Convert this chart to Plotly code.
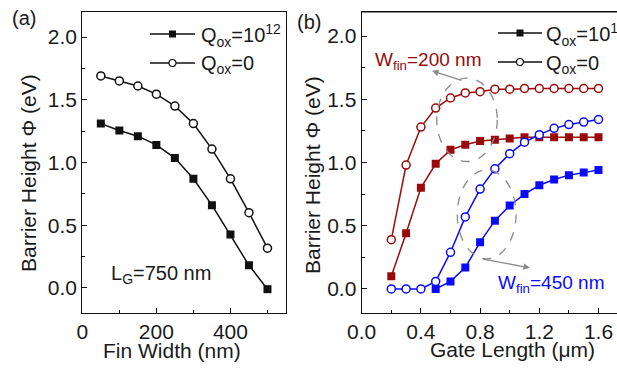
import plotly.graph_objects as go

# ---------------- data ----------------
fin_width = [50, 100, 150, 200, 250, 300, 350, 400, 450, 500]
a_q12 = [1.31, 1.255, 1.21, 1.14, 1.035, 0.87, 0.66, 0.425, 0.18, -0.01]
a_q0 = [1.69, 1.65, 1.61, 1.545, 1.45, 1.31, 1.107, 0.87, 0.60, 0.317]

gate_len = [0.2, 0.3, 0.4, 0.5, 0.6, 0.7, 0.8, 0.9, 1.0, 1.1, 1.2, 1.3, 1.4, 1.5, 1.6]
w200_q0 = [0.39, 0.98, 1.28, 1.43, 1.51, 1.55, 1.56, 1.58, 1.58, 1.585, 1.585, 1.585, 1.585, 1.585, 1.585]
w200_q12 = [0.10, 0.44, 0.80, 0.99, 1.10, 1.14, 1.17, 1.18, 1.19, 1.20, 1.20, 1.20, 1.20, 1.20, 1.20]
w450_q0 = [0.0, 0.0, 0.0, 0.06, 0.29, 0.57, 0.79, 0.95, 1.07, 1.16, 1.22, 1.27, 1.30, 1.32, 1.34]
gate_len_450_q12 = [0.5, 0.6, 0.7, 0.8, 0.9, 1.0, 1.1, 1.2, 1.3, 1.4, 1.5, 1.6]
w450_q12 = [0.0, 0.06, 0.17, 0.37, 0.54, 0.66, 0.75, 0.82, 0.865, 0.90, 0.92, 0.94]

legend_labels = ["Q<sub>ox</sub>=10<sup>12</sup>", "Q<sub>ox</sub>=0"]

# ---------------- style ----------------
W, H = 617, 369
FONT = "Liberation Sans, Arial, sans-serif"
RED = "#9a0a0a"
BLUE = "#0a0aff"
BLACK = "#111111"
GRAY = "#8a8a8a"

def px(x):
    return x / W

def py(y):
    return 1 - y / H

fig = go.Figure()

def sq(x, y, color, xa, ya):
    fig.add_trace(go.Scatter(x=x, y=y, mode="lines+markers", xaxis=xa, yaxis=ya,
                             line=dict(color=color, width=1.5),
                             marker=dict(symbol="square", size=8, color=color,
                                         line=dict(width=0)),
                             showlegend=False))

def ci(x, y, color, xa, ya):
    fig.add_trace(go.Scatter(x=x, y=y, mode="lines+markers", xaxis=xa, yaxis=ya,
                             line=dict(color=color, width=1.5),
                             marker=dict(symbol="circle", size=8, color="white",
                                         line=dict(width=1.5, color=color)),
                             showlegend=False))

# panel (a)
sq(fin_width, a_q12, BLACK, "x", "y")
ci(fin_width, a_q0, BLACK, "x", "y")
# panel (b)
sq(gate_len, w200_q12, RED, "x2", "y2")
ci(gate_len, w200_q0, RED, "x2", "y2")
sq(gate_len_450_q12, w450_q12, BLUE, "x2", "y2")
ci(gate_len, w450_q0, BLUE, "x2", "y2")

axis_common = dict(showline=True, linecolor=BLACK, linewidth=1.2, ticks="inside",
                   ticklen=5, tickwidth=1.2, tickcolor=BLACK, showgrid=False,
                   zeroline=False, tickfont=dict(family=FONT, size=21, color="#1a1a1a"))

dom_y = [py(313), py(12)]
fig.update_layout(
    width=W, height=H, margin=dict(l=0, r=0, t=0, b=0, autoexpand=False),
    paper_bgcolor="white", plot_bgcolor="white", showlegend=False,
    font=dict(family=FONT, size=20, color="#1a1a1a"),
    xaxis=dict(domain=[px(82.3), px(286)], range=[0, 550], dtick=200, tick0=0,
               mirror=True, anchor="y",
               minor=dict(dtick=100, ticks="inside", ticklen=3, tickcolor=BLACK, tickwidth=1.2),
               **axis_common),
    yaxis=dict(domain=dom_y, range=[-0.2, 2.2], dtick=0.5, tick0=0, tickformat=".1f",
               mirror=True, anchor="x",
               minor=dict(dtick=0.25, ticks="inside", ticklen=3, tickcolor=BLACK, tickwidth=1.2),
               **axis_common),
    xaxis2=dict(domain=[px(361.7), 1.0], range=[0, 1.725], dtick=0.4, tick0=0, tickformat=".1f",
                mirror=True, anchor="y2",
                minor=dict(dtick=0.2, ticks="inside", ticklen=3, tickcolor=BLACK, tickwidth=1.2),
                **axis_common),
    yaxis2=dict(domain=dom_y, range=[-0.19, 2.19], dtick=0.5, tick0=0, tickformat=".1f",
                mirror=False, anchor="x2",
                minor=dict(dtick=0.25, ticks="inside", ticklen=3, tickcolor=BLACK, tickwidth=1.2),
                **axis_common),
)

# top border of panel (b)
fig.add_shape(type="line", xref="paper", yref="paper", x0=px(361.7), x1=1.0,
              y0=py(12), y1=py(12), line=dict(color=BLACK, width=1.2))

# dashed ellipses
fig.add_shape(type="circle", xref="x2", yref="y2", x0=0.507, x1=0.916, y0=1.008, y1=1.667,
              line=dict(color=GRAY, width=1.3, dash="dash"))
fig.add_shape(type="circle", xref="x2", yref="y2", x0=0.646, x1=1.043, y0=0.238, y1=0.941,
              line=dict(color=GRAY, width=1.3, dash="dash"))

ann = []
def text(x, y, s, size=20, color="#1a1a1a", angle=0, xanchor="center"):
    ann.append(dict(x=px(x), y=py(y), xref="paper", yref="paper", text=s, showarrow=False,
                    font=dict(family=FONT, size=size, color=color), textangle=angle,
                    xanchor=xanchor, yanchor="middle"))

# hand-drawn legends (line segment + small marker + label)
def legend_block(x0, x1, y_rows, tx):
    xm = (x0 + x1) / 2
    for i, yr in enumerate(y_rows):
        fig.add_shape(type="line", xref="paper", yref="paper", x0=px(x0), x1=px(x1),
                      y0=py(yr), y1=py(yr), line=dict(color=BLACK, width=1.5))
        if i == 0:
            fig.add_shape(type="rect", xref="paper", yref="paper",
                          x0=px(xm - 3.5), x1=px(xm + 3.5), y0=py(yr + 3.5), y1=py(yr - 3.5),
                          fillcolor=BLACK, line=dict(width=0))
        else:
            fig.add_shape(type="circle", xref="paper", yref="paper",
                          x0=px(xm - 3.5), x1=px(xm + 3.5), y0=py(yr + 3.5), y1=py(yr - 3.5),
                          fillcolor="white", line=dict(color=BLACK, width=1.2))
        text(tx, yr + 2, legend_labels[i], 20, xanchor="left")

legend_block(150, 195, [34, 63], 199)
legend_block(498, 542, [33, 62], 544)

text(24, 18, "(a)", 20)
text(309, 22, "(b)", 20)
text(28, 173, "Barrier Height Φ (eV)", 21, angle=-90)
text(312, 175, "Barrier Height Φ (eV)", 21, angle=-90)
text(172, 350, "Fin Width (nm)", 21)
text(512, 349, "Gate Length (μm)", 21)
text(161, 274, "L<sub>G</sub>=750 nm", 20)
text(428, 61, "W<sub>fin</sub>=200 nm", 19, RED)
text(551, 284, "W<sub>fin</sub>=450 nm", 19, BLUE)

# arrows
ann.append(dict(x=0.475, y=1.725, ax=0.684, ay=1.645, xref="x2", yref="y2",
                axref="x2", ayref="y2", text="", showarrow=True, arrowhead=2,
                arrowsize=1, arrowwidth=1.3, arrowcolor=GRAY))
ann.append(dict(x=1.137, y=0.167, ax=0.81, ay=0.238, xref="x2", yref="y2",
                axref="x2", ayref="y2", text="", showarrow=True, arrowhead=2,
                arrowsize=1, arrowwidth=1.3, arrowcolor=GRAY))
fig.update_layout(annotations=ann)

fig.write_html("out.html", config={"displayModeBar": False},
               post_script="document.body.style.margin='0';document.body.style.overflow='hidden';")
